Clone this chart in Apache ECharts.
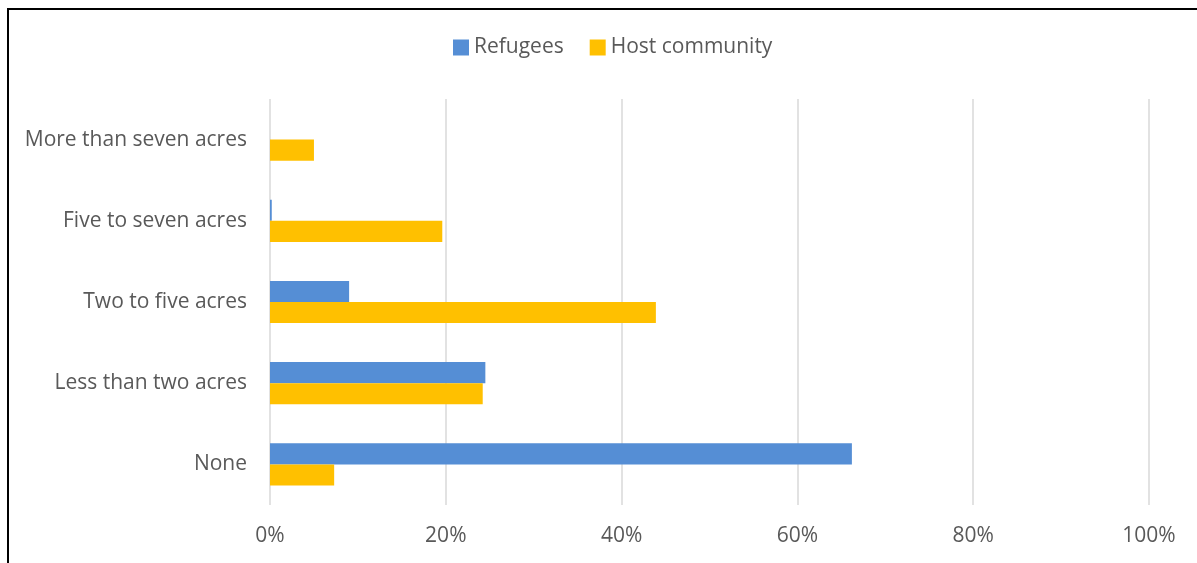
<!DOCTYPE html>
<html><head><meta charset="utf-8">
<style>html,body{margin:0;padding:0;background:#fff;}#c{width:1197px;height:563px;}</style>
<script src="https://cdn.jsdelivr.net/npm/echarts@6/dist/echarts.min.js"></script>
</head><body><div id="c"></div>
<script>
const categories = ['None', 'Less than two acres', 'Two to five acres', 'Five to seven acres', 'More than seven acres'];
const refugees = [66.2, 24.5, 9.0, 0.2, 0];
const hostCommunity = [7.3, 24.2, 43.9, 19.6, 5.0];
const xTicks = [0, 20, 40, 60, 80, 100];

const chart = echarts.init(document.getElementById('c'));
const fontFamily = '"Open Sans", sans-serif';
chart.setOption({
  animation: false,
  textStyle: {fontFamily: fontFamily},
  graphic: [{type: 'rect', shape: {x: 8, y: 9, width: 1400, height: 800}, style: {fill: 'none', stroke: '#000', lineWidth: 2}, silent: true}],
  legend: {
    top: 37, left: 453, itemWidth: 16, itemHeight: 16, itemGap: 26,
    icon: 'rect', padding: 0,
    textStyle: {fontSize: 21, color: '#595959', fontFamily: fontFamily},
    data: ['Refugees', 'Host community']
  },
  grid: {left: 270, right: 48, top: 99, bottom: 58, containLabel: false},
  xAxis: {
    type: 'value', min: xTicks[0], max: xTicks[xTicks.length - 1], interval: 20,
    axisLine: {show: false}, axisTick: {show: false},
    axisLabel: {formatter: '{value}%', fontSize: 21, color: '#595959', margin: 21, fontFamily: fontFamily},
    splitLine: {lineStyle: {color: '#d9d9d9', width: 1.5}}
  },
  yAxis: {
    type: 'category', data: categories,
    axisLine: {show: false}, axisTick: {show: false},
    axisLabel: {fontSize: 21, color: '#595959', margin: 23, fontFamily: fontFamily}
  },
  series: [
    {name: 'Refugees', type: 'bar', data: refugees, itemStyle: {color: '#558ED5'}, barGap: '0%', barCategoryGap: '48%'},
    {name: 'Host community', type: 'bar', data: hostCommunity, itemStyle: {color: '#FFC000'}, barGap: '0%', barCategoryGap: '48%'}
  ]
});
</script></body></html>
